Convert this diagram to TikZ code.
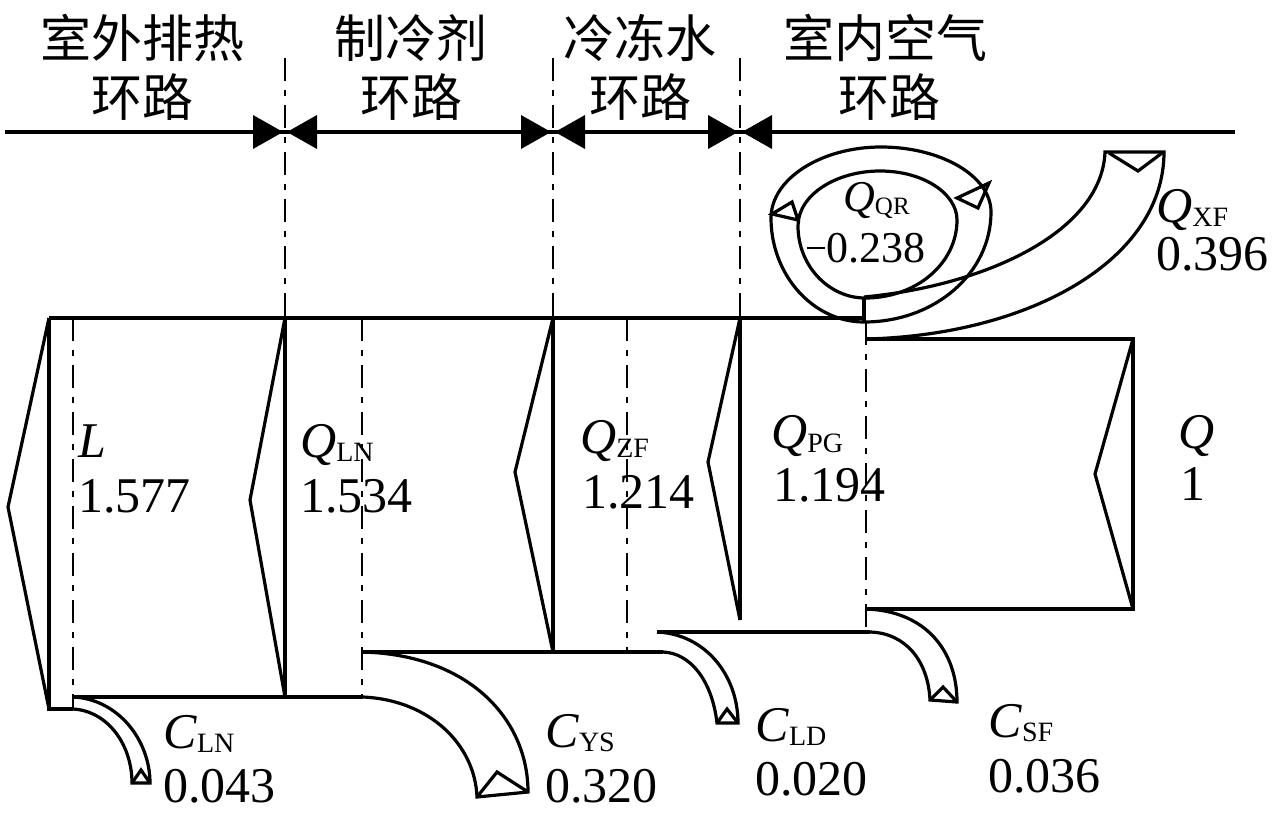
\documentclass[tikz,border=0pt]{standalone}
\usepackage{fontspec}
\setmainfont{Liberation Serif}
\newfontfamily\cjk{Noto Sans CJK SC}
\newcommand\qq[2]{\textit{#1}\raisebox{-4pt}{\fontsize{28}{28}\selectfont #2}}
\newcommand\qqs[2]{\textit{#1}\raisebox{-3.5pt}{\fontsize{25}{25}\selectfont #2}}
\begin{document}
\begin{tikzpicture}[x=1pt,y=-1pt]
\tikzset{
  ln/.style={line width=3.2pt},
  dd/.style={line width=2.6pt, dash pattern=on 23pt off 9pt on 6pt off 9pt},
  bow/.style={fill=black, draw=none},
  hd/.style={font=\cjk\fontsize{51}{51}\selectfont, inner sep=0pt},
  val/.style={font=\fontsize{50}{50}\selectfont, inner sep=0pt, anchor=base west},
  vals/.style={font=\fontsize{44}{44}\selectfont, inner sep=0pt, anchor=base west},
}
\useasboundingbox (0,0) rectangle (1280,827);
% ---------- header ----------
\node[hd] (h1a) at (142,38) {室外排热};
\node[hd] (h1b) at (142,97) {环路};
\node[hd] (h2a) at (411,38) {制冷剂};
\node[hd] (h2b) at (411,97) {环路};
\node[hd] (h3a) at (640,38) {冷冻水};
\node[hd] (h3b) at (640,97) {环路};
\node[hd] (h4a) at (885,38) {室内空气};
\node[hd] (h4b) at (889,97) {环路};
\draw[ln] (5,132) -- (1235,132);
\foreach \s in {285,553,740} {
  \fill[bow] (\s-32,115) -- (\s-2,132) -- (\s-32,149) -- cycle;
  \fill[bow] (\s+32,115) -- (\s+2,132) -- (\s+32,149) -- cycle;
  \draw[dd] (\s,58) -- (\s,318);
}
% ---------- main band ----------
\draw[ln] (49,318) -- (864,318);
\draw[ln] (49,318) -- (8,507) -- (49,709);
\draw[ln] (49,318) -- (49,709) -- (73,709);
\draw[dd] (73,318) -- (73,709);
\draw[ln] (285,318) -- (285,697);
\draw[ln] (285,318) -- (250,500) -- (285,697);
\draw[ln] (73,697) -- (363,697);
\draw[dd] (362,318) -- (362,697);
\draw[ln] (553,318) -- (553,652);
\draw[ln] (553,318) -- (515,472) -- (553,652);
\draw[ln] (363,652) -- (663,652);
\draw[dd] (627,318) -- (627,652);
\draw[ln] (740,318) -- (740,620);
\draw[ln] (740,318) -- (708,462) -- (740,620);
\draw[ln] (657,632) -- (870,632);
\draw[dd] (866,322) -- (866,628);
\draw[ln] (866,339) -- (1133,339) -- (1133,609) -- (866,609);
\draw[ln] (1133,339) -- (1095,474) -- (1133,609);
% ---------- C branches ----------
\draw[ln] (73,697) .. controls (118,699) and (150,740) .. (150,783) -- (132,783)
  .. controls (132,745) and (108,711) .. (73,709);
\draw[ln] (132,783) -- (141,770) -- (150,783);
\draw[ln] (363,652) .. controls (470,655) and (528,720) .. (528,792) -- (477,797)
  .. controls (475,745) and (430,700) .. (363,697);
\draw[ln] (477,797) -- (497,772) -- (528,792);
\draw[ln] (657,632) .. controls (705,634) and (738,675) .. (738,723) -- (717,723)
  .. controls (712,680) and (690,653) .. (663,652);
\draw[ln] (717,723) -- (727,709) -- (738,723);
\draw[ln] (866,609) .. controls (925,611) and (957,650) .. (957,702) -- (930,700)
  .. controls (928,660) and (905,633) .. (870,632);
\draw[ln] (930,700) -- (943,687) -- (957,702);
% ---------- recirculation loop ----------
\draw[ln] (771,218) .. controls (771,179) and (821,147) .. (881,147)
  .. controls (941,147) and (991,176) .. (991,212)
  .. controls (991,273) and (935,322) .. (864,322)
  .. controls (813,322) and (771,275) .. (771,218) -- cycle;
\draw[ln] (798,226) .. controls (798,195) and (836,171) .. (880,171)
  .. controls (924,171) and (957,194) .. (957,220)
  .. controls (957,263) and (917,298) .. (865,298)
  .. controls (829,298) and (798,266) .. (798,226) -- cycle;
\draw[ln] (864,297) -- (864,322);
\draw[ln] (772,214) -- (792,202) -- (798,220) -- cycle;
\draw[ln] (957,198) -- (989,183) -- (978,208) -- cycle;
% ---------- Q_XF ----------
\draw[ln] (864,297) .. controls (990,285) and (1102,230) .. (1105,152) -- (1164,152)
  .. controls (1164,260) and (1030,335) .. (866,339);
\draw[ln] (1109,153) -- (1138,171) -- (1162,153);
% ---------- labels ----------
\node[val] (lL) at (78,457) {\textit{L}};
\node[val] (vL) at (78,512) {1.577};
\node[val] (lLN) at (300,457) {\qq{Q}{LN}};
\node[val] (vLN) at (300,512) {1.534};
\node[val] (lZF) at (580,453) {\qq{Q}{ZF}};
\node[val] (vZF) at (582,508) {1.214};
\node[val] (lPG) at (771,448) {\qq{Q}{PG}};
\node[val] (vPG) at (773,501) {1.194};
\node[val] (lQ) at (1178,448) {\textit{Q}};
\node[val] (vQ) at (1180,500) {1};
\node[vals] (lQR) at (843,211) {\raisebox{0pt}[\height][0pt]{\qqs{Q}{QR}}};
\node[vals] (vQR) at (807,262) {\rule[13pt]{18pt}{2.4pt}\hspace{1pt}0.238};
\node[val] (lXF) at (1156,222) {\raisebox{0pt}[\height][0pt]{\qq{Q}{XF}}};
\node[val] (vXF) at (1156,270) {0.396};
\node[val] (lCLN) at (163,748) {\qq{C}{LN}};
\node[val] (vCLN) at (163,802) {0.043};
\node[val] (lCYS) at (545,747) {\qq{C}{YS}};
\node[val] (vCYS) at (545,802) {0.320};
\node[val] (lCLD) at (755,741) {\qq{C}{LD}};
\node[val] (vCLD) at (755,795) {0.020};
\node[val] (lCSF) at (988,737) {\qq{C}{SF}};
\node[val] (vCSF) at (988,792) {0.036};
\end{tikzpicture}
\end{document}
